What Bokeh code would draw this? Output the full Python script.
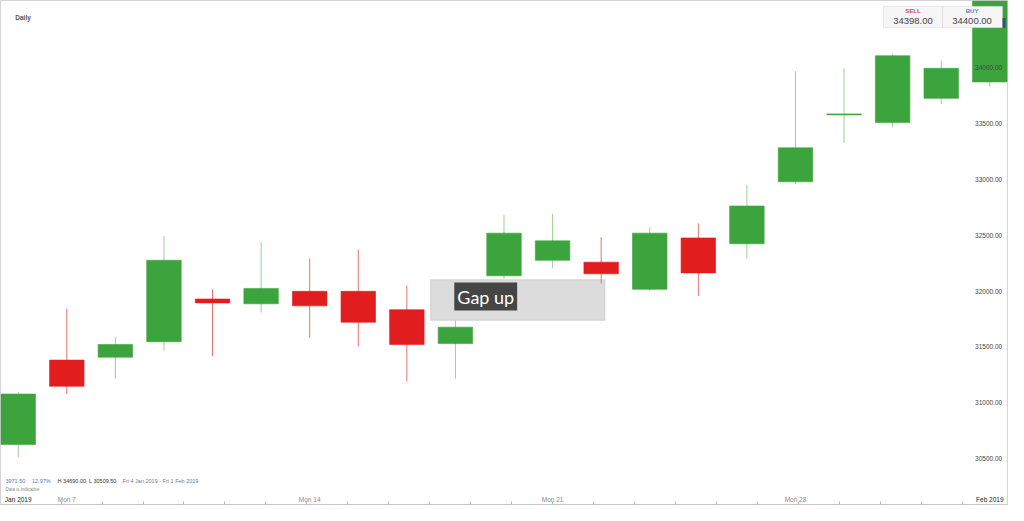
import pandas as pd
from bokeh.plotting import figure
from bokeh.models import (Range1d, LinearAxis, FixedTicker, NumeralTickFormatter,
                          BoxAnnotation, Label, CustomJSTickFormatter, ColumnDataSource)
from bokeh.embed import file_html
from bokeh.resources import INLINE

# ---------------- data ----------------
dates = ["2019-01-04", "2019-01-07", "2019-01-08", "2019-01-09", "2019-01-10", "2019-01-11",
         "2019-01-14", "2019-01-15", "2019-01-16", "2019-01-17", "2019-01-18",
         "2019-01-21", "2019-01-22", "2019-01-23", "2019-01-24", "2019-01-25",
         "2019-01-28", "2019-01-29", "2019-01-30", "2019-01-31", "2019-02-01"]
open_ = [30627, 31382, 31408, 31547, 31929, 31886, 31998, 31998, 31833, 31530, 32137,
         32276, 32259, 32016, 32476, 32424, 32979, 33578, 33509, 33726, 33873]
close = [31078, 31148, 31521, 32276, 31894, 32024, 31868, 31721, 31521, 31677, 32519,
         32450, 32155, 32519, 32163, 32762, 33283, 33587, 34108, 33995, 34598.5]
high = [31096, 31842, 31590, 32493, 32016, 32441, 32293, 32372, 32050, 31738, 32684,
        32693, 32484, 32571, 32606, 32953, 33969, 33995, 34125, 34064, 34690]
low = [30509.5, 31078, 31217, 31469, 31417, 31807, 31582, 31504, 31191, 31217, 32110,
       32207, 32068, 31998, 31955, 32293, 32960, 33326, 33465, 33674, 33830]
price_ticks = [30500, 31000, 31500, 32000, 32500, 33000, 33500, 34000]
sell_price = "34398.00"
buy_price = "34400.00"
info_change = "3971.50"
info_pct = "12.97%"
info_high = "H 34690.00"
info_low = "L 30509.50"
info_range = "Fri 4 Jan 2019 - Fri 1 Feb 2019"

GREEN = "#3ca43c"
RED = "#e11d1d"
GREEN_WICK = "#9ccf9c"
RED_WICK = "#ea7070"

# --- helpers: convert reference pixel positions into data coordinates ---
def X(px):
    return (px - 18) / 49.35

def Y(py):
    return 33500 - (py - 127) / 0.1152

d = pd.to_datetime(pd.Series(dates))
idx = list(range(len(dates)))
up = [c >= o for o, c in zip(open_, close)]
src = ColumnDataSource(dict(
    x=idx, open=open_, close=close, high=high, low=low,
    top=[max(o, c) for o, c in zip(open_, close)],
    bottom=[min(o, c) for o, c in zip(open_, close)],
    color=[GREEN if u else RED for u in up],
    wick=[GREEN_WICK if u else RED_WICK for u in up],
))

p = figure(width=1008, height=505, output_backend="svg", toolbar_location=None,
           x_range=Range1d(X(0), X(1024)), y_range=Range1d(Y(521), Y(0)),
           x_axis_location=None, y_axis_location=None,
           min_border=0, min_border_left=0, min_border_right=0,
           min_border_top=0, min_border_bottom=0)
p.grid.visible = False
p.background_fill_color = "white"
p.border_fill_color = "white"
p.outline_line_color = "#d4d4d4"
p.outline_line_width = 1

# gap box (under the candles)
p.add_layout(BoxAnnotation(left=X(437), right=X(614), top=Y(288), bottom=Y(330),
                           fill_color="#dcdcdc", fill_alpha=1.0,
                           line_color="#9a9a9a", line_width=1, level="underlay"))

p.segment(x0="x", x1="x", y0="low", y1="high", color="wick", line_width=1, source=src)
p.vbar(x="x", width=0.71, top="top", bottom="bottom", fill_color="color",
       line_color="color", line_alpha=0.6, line_width=1, source=src)

def plain(ax, size, color):
    ax.axis_line_color = None
    ax.major_tick_line_color = None
    ax.minor_tick_line_color = None
    ax.major_tick_in = 0
    ax.major_tick_out = 0
    ax.minor_tick_in = 0
    ax.minor_tick_out = 0
    ax.major_label_standoff = 0
    ax.major_label_text_font = "Liberation Sans"
    ax.major_label_text_font_size = size
    ax.major_label_text_color = color

# right price axis, drawn inside the frame
yax = LinearAxis(fixed_location=X(990), ticker=FixedTicker(ticks=price_ticks),
                 formatter=NumeralTickFormatter(format="0.00"))
plain(yax, "6.5px", "#444444")
p.add_layout(yax, "right")

# bottom axes: month labels (dark) and Monday labels (gray)
month_ticks = [0, len(dates) - 1]
month_labels = {i: d[i].strftime("%b %Y") for i in month_ticks}
mon_ticks = [i for i in idx if d[i].weekday() == 0]
mon_labels = {i: "Mon " + str(d[i].day) for i in mon_ticks}

for ticks, labels, col in [(month_ticks, month_labels, "#222222"),
                           (mon_ticks, mon_labels, "#8a8a8a")]:
    ax = LinearAxis(fixed_location=Y(518.5), ticker=FixedTicker(ticks=ticks),
                    major_label_overrides=labels)
    plain(ax, "6.5px", col)
    p.add_layout(ax, "above")

# small tick marks at the bottom edge
tick_pos = [X(20 + 41.6 * k) for k in range(24)]
tax = LinearAxis(fixed_location=Y(520), ticker=FixedTicker(ticks=tick_pos),
                 formatter=CustomJSTickFormatter(code="return ''"))
tax.axis_line_color = "#c8c8c8"
tax.major_tick_in = 3
tax.major_tick_out = 0
tax.major_tick_line_color = "#b8b8b8"
tax.minor_tick_line_color = None
tax.major_label_text_font_size = "1px"
p.add_layout(tax, "below")

# "Gap up" annotation
p.add_layout(Label(x=X(461), y=Y(305.5), text="Gap up", text_baseline="middle",
                   text_align="left", text_color="white", text_font="Lato",
                   text_font_size="18px", background_fill_color="#454545",
                   background_fill_alpha=1.0, padding=3))

# title
p.add_layout(Label(x=X(15), y=Y(18), text="Daily", text_baseline="middle",
                   text_font="Liberation Sans", text_font_size="6.5px",
                   text_font_style="bold", text_color="#555555"))

# sell / buy box
p.add_layout(BoxAnnotation(left=X(897), right=X(957), top=Y(6), bottom=Y(28),
                           fill_color="#f6f6f6", fill_alpha=1.0, line_color="#c4c4c4"))
p.add_layout(BoxAnnotation(left=X(957), right=X(1018), top=Y(6), bottom=Y(28),
                           fill_color="#f6f6f6", fill_alpha=1.0, line_color="#c4c4c4"))
p.add_layout(BoxAnnotation(left=X(1018), right=X(1021), top=Y(18), bottom=Y(28),
                           fill_color="#3b4b7c", fill_alpha=1.0, line_color=None))
for cx, t1, c1, t2 in [(927, "SELL", "#d9484a", sell_price), (987, "BUY", "#4a86c8", buy_price)]:
    p.add_layout(Label(x=X(cx), y=Y(11), text=t1, text_align="center", text_baseline="middle",
                       text_font="Liberation Sans", text_font_size="6px",
                       text_font_style="bold", text_color=c1))
    p.add_layout(Label(x=X(cx), y=Y(21.5), text=t2, text_align="center", text_baseline="middle",
                       text_font="Liberation Sans", text_font_size="9.5px", text_color="#444444"))

# info line
for px, t, col in [(5, info_change, "#4f7dc0"), (32, info_pct, "#4f7dc0"),
                   (58, info_high, "#333333"), (90, info_low, "#333333"),
                   (124, info_range, "#6c7d95")]:
    p.add_layout(Label(x=X(px), y=Y(496), text=t, text_baseline="middle",
                       text_font="Liberation Sans", text_font_size="5.5px", text_color=col))
p.add_layout(Label(x=X(5), y=Y(505), text="Data is indicative", text_baseline="middle",
                   text_font="Liberation Sans", text_font_size="4.5px", text_color="#8a8a8a"))

open("out.html", "w").write(file_html(p, INLINE))
